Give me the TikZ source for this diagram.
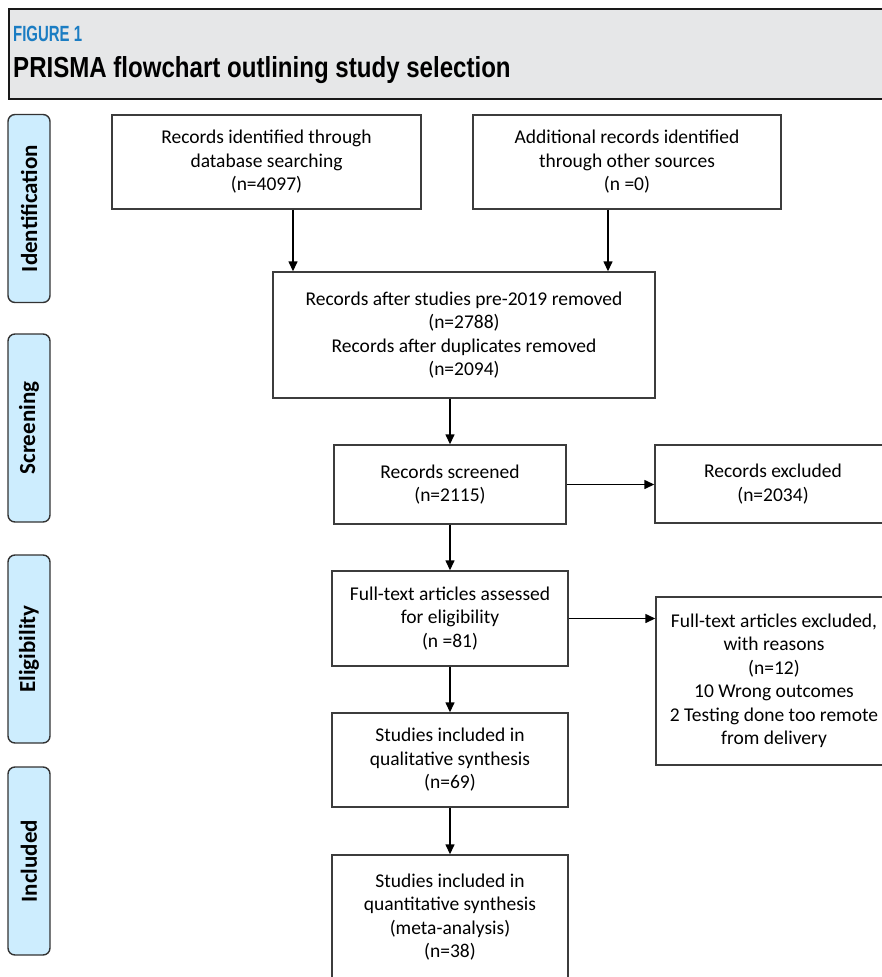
\documentclass[tikz,border=0pt]{standalone}
\usepackage{fontspec}
\setmainfont{Carlito}
\newfontfamily\headfont[FakeStretch=0.83]{Liberation Sans}
\newfontfamily\fignofont[FakeStretch=0.68]{Liberation Sans}
\usetikzlibrary{arrows.meta}

\definecolor{headgray}{HTML}{E6E7E8}
\definecolor{figblue}{HTML}{1B7DC3}
\definecolor{stageblue}{HTML}{CDEDFE}
\definecolor{boxline}{HTML}{3C3C3C}

\begin{document}
\begin{tikzpicture}[x=1pt, y=-1pt,
  every node/.style={font=\fontsize{19.5}{23.5}\selectfont},
  box/.style={draw=boxline, line width=1.4pt, align=center, inner sep=0pt},
  stage/.style={draw=black!80, fill=stageblue, rounded corners=7pt, line width=1.4pt,
    rotate=90, minimum width=188pt, minimum height=42pt, inner sep=0pt,
    font=\fontsize{23}{26}\selectfont\bfseries},
  arr/.style={-{Triangle[length=10pt,width=9pt]}, line width=1.4pt}]
  \useasboundingbox (0,0) rectangle (882,977);
  \clip (0,0) rectangle (882,977);

  % title bar
  \draw[fill=headgray, draw=black!90, line width=2pt] (9,9) rectangle (900,99);
  \node[anchor=base west, inner sep=0pt, text=figblue, font=\fignofont\fontsize{22}{24}\selectfont\bfseries] (figno) at (13,41) {FIGURE 1};
  \node[anchor=base west, inner sep=0pt, font=\headfont\fontsize{29}{31}\selectfont\bfseries] (figtitle) at (13,77) {PRISMA flowchart outlining study selection};

  % stages
  \node[stage] (ident) at (29,208.5) {Identification};
  \node[stage] (screen) at (29,428) {Screening};
  \node[stage] (elig) at (29,649) {Eligibility};
  \node[stage] (incl) at (29,861) {Included};

  % boxes
  \node[box, minimum width=309pt, minimum height=94pt] (dbsearch) at (266.5,162)
    {Records identified through\\database searching\\(n=4097)};
  \node[box, minimum width=308pt, minimum height=94pt] (othersrc) at (627,162)
    {Additional records identified\\through other sources\\(n =0)};
  \node[box, minimum width=382pt, minimum height=126pt] (removed) at (464,335)
    {Records after studies pre-2019 removed\\(n=2788)\\Records after duplicates removed\\(n=2094)};
  \node[box, minimum width=232pt, minimum height=79pt] (screened) at (450,484.5)
    {Records screened\\(n=2115)};
  \node[box, minimum width=236pt, minimum height=78pt] (excl) at (773,484)
    {Records excluded\\(n=2034)};
  \node[box, minimum width=236pt, minimum height=95pt] (fulltext) at (450,618.5)
    {Full-text articles assessed\\for eligibility\\(n =81)};
  \node[box, minimum width=236pt, minimum height=168pt] (ftexcl) at (774,681)
    {Full-text articles excluded,\\with reasons\\(n=12)\\10 Wrong outcomes\\2 Testing done too remote\\from delivery};
  \node[box, minimum width=236pt, minimum height=94pt] (qual) at (450,760)
    {Studies included in\\qualitative synthesis\\(n=69)};
  \node[box, minimum width=236pt, minimum height=124pt] (quant) at (450,917)
    {Studies included in\\quantitative synthesis\\(meta-analysis)\\(n=38)};

  % arrows
  \draw[arr] ([xshift=26.5pt]dbsearch.south) -- ([xshift=26.5pt]dbsearch.south |- removed.north);
  \draw[arr] ([xshift=-19pt]othersrc.south) -- ([xshift=-19pt]othersrc.south |- removed.north);
  \draw[arr] (screened.north |- removed.south) -- (screened.north);
  \draw[arr] (screened.east) -- (screened.east -| excl.west);
  \draw[arr] (screened.south) -- (fulltext.north);
  \draw[arr] (fulltext.east) -- (fulltext.east -| ftexcl.west);
  \draw[arr] (fulltext.south) -- (qual.north);
  \draw[arr] (qual.south) -- (quant.north);
\end{tikzpicture}
\end{document}
